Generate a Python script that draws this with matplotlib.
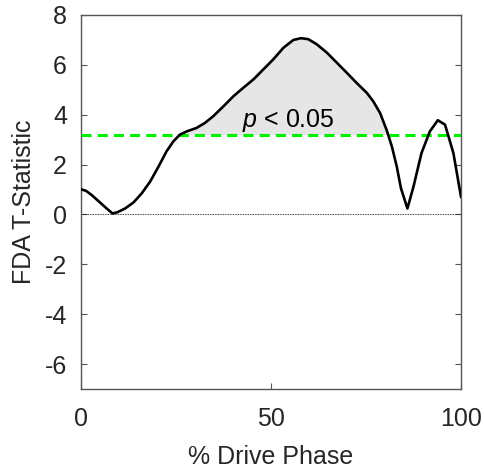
import numpy as np
import matplotlib.pyplot as plt

plt.rcParams['font.family'] = ['Liberation Sans', 'DejaVu Sans']
plt.rcParams['mathtext.fontset'] = 'custom'
plt.rcParams['mathtext.rm'] = 'Liberation Sans'
plt.rcParams['mathtext.it'] = 'Liberation Sans:italic'
plt.rcParams['axes.unicode_minus'] = False

# data
drive_pct = [0, 1.3, 2.8, 5, 6.75, 8.3, 9.6, 11.6, 13.8, 16, 18.2, 20.4, 22.5, 24.3,
             26, 27.8, 30.4, 32.6, 34.8, 37.5, 40.1, 42.7, 45.4, 48, 50.6, 53.3,
             55.9, 57.9, 59.8, 62, 64.7, 67.3, 69.9, 72.5, 75.2, 76.9, 78.7, 80.4,
             81.8, 83.1, 84.2, 85.9, 87.5, 89.6, 91.8, 93.9, 95.8, 98, 100]
t_stat = [1.01, 0.95, 0.78, 0.48, 0.24, 0.04, 0.09, 0.24, 0.48, 0.85, 1.32, 1.92, 2.53, 2.93,
          3.2, 3.33, 3.47, 3.67, 3.94, 4.34, 4.74, 5.08, 5.42, 5.82, 6.22, 6.69,
          7.0, 7.07, 7.03, 6.83, 6.49, 6.09, 5.69, 5.28, 4.88, 4.54, 4.07, 3.40,
          2.73, 1.92, 1.05, 0.24, 1.12, 2.46, 3.33, 3.78, 3.60, 2.46, 0.71]
threshold = 3.2
sig_range = (25, 82)
y_ticks = [-6, -4, -2, 0, 2, 4, 6, 8]
x_ticks = [0, 50, 100]

x = np.array(drive_pct)
y = np.array(t_stat)

fig = plt.figure(figsize=(4.85, 4.76), dpi=100)
ax = fig.add_axes([81/485, 87/476, 380/485, 374/476])

mask = (y >= threshold) & (x >= sig_range[0]) & (x <= sig_range[1])
ax.fill_between(x, threshold, y, where=mask, interpolate=True,
                color='#e6e6e6', linewidth=0, zorder=1)
ax.axhline(0, color='black', linestyle=(0, (1, 1)), linewidth=0.6, zorder=2)
ax.axhline(threshold, color='#00ee00', linestyle=(0, (3.3, 2)), linewidth=2.2, zorder=3)
ax.plot(x, y, color='black', linewidth=1.9, zorder=4)

ax.text(42.3, 3.52, r'$\it{p}$ < 0.05', fontsize=18, ha='left', va='baseline', zorder=5)

ax.set_xlim(0, 100)
ax.set_ylim(-7, 8)
ax.set_xticks(x_ticks)
ax.set_yticks(y_ticks)
ax.set_xlabel('% Drive Phase', fontsize=18, color='#262626', labelpad=10)
ax.set_ylabel('FDA T-Statistic', fontsize=18, color='#262626', labelpad=6)
ax.tick_params(direction='in', length=4, width=0.8, colors='#555555',
               labelcolor='#262626', labelsize=18, top=False, right=True)
ax.tick_params(axis='x', pad=13)
ax.tick_params(axis='y', pad=10)
for s in ax.spines.values():
    s.set_color('#555555')
    s.set_linewidth(1.0)

fig.savefig('out.png', dpi=100)
